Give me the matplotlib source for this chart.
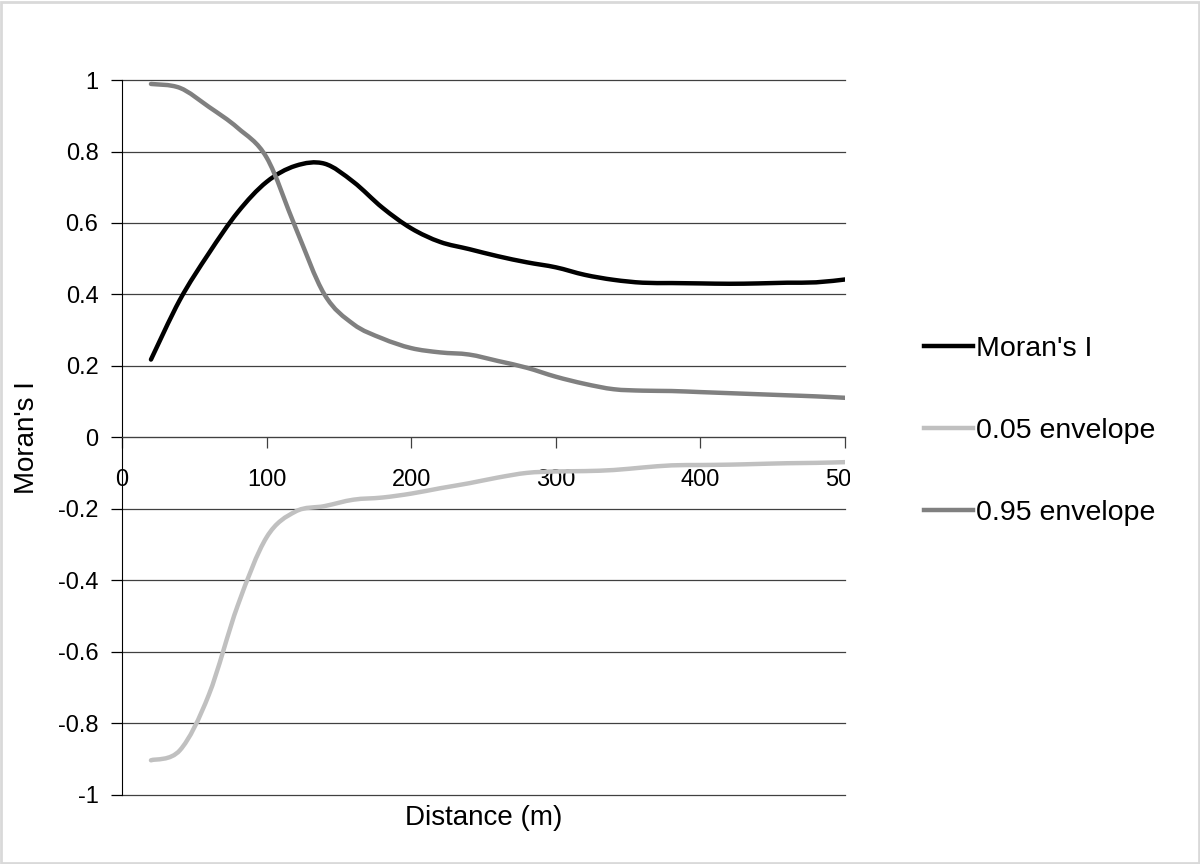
import matplotlib
matplotlib.use("Agg")
import matplotlib.pyplot as plt
import numpy as np
from matplotlib.path import Path
from matplotlib.patches import PathPatch, Rectangle
from matplotlib.lines import Line2D
from matplotlib.transforms import Bbox, TransformedBbox

plt.rcParams['font.family'] = ['Liberation Sans', 'DejaVu Sans']

# distance (m)
distance = [20, 40, 60, 80, 100, 120, 140, 160, 180, 200, 220, 240, 260,
            280, 300, 320, 340, 360, 380, 400, 420, 440, 460, 480, 500]
morans_i = [0.218, 0.385, 0.515, 0.63, 0.715, 0.76, 0.766, 0.715, 0.643, 0.585,
            0.547, 0.527, 0.507, 0.49, 0.476, 0.455, 0.441, 0.433, 0.432, 0.431,
            0.43, 0.431, 0.433, 0.434, 0.442]
env_05 = [-0.903, -0.875, -0.72, -0.47, -0.279, -0.207, -0.192, -0.174, -0.168, -0.157,
          -0.142, -0.128, -0.112, -0.099, -0.095, -0.094, -0.091, -0.084, -0.078, -0.077,
          -0.076, -0.074, -0.072, -0.071, -0.069]
env_95 = [0.989, 0.978, 0.925, 0.866, 0.783, 0.587, 0.40, 0.317, 0.277, 0.25,
          0.238, 0.232, 0.214, 0.195, 0.17, 0.15, 0.135, 0.131, 0.13, 0.127,
          0.124, 0.121, 0.118, 0.115, 0.111]

series = [("Moran's I", morans_i, "#000000"),
          ("0.05 envelope", env_05, "#c0c0c0"),
          ("0.95 envelope", env_95, "#808080")]


def smooth_path(x, y):
    # excel-like smoothed line: bezier segments through every point
    pts = np.column_stack([x, y]).astype(float)
    n = len(pts)
    verts = [pts[0]]
    codes = [Path.MOVETO]
    for i in range(n - 1):
        p0 = pts[max(i - 1, 0)]
        p1 = pts[i]
        p2 = pts[i + 1]
        p3 = pts[min(i + 2, n - 1)]
        verts += [p1 + (p2 - p0) / 6, p2 - (p3 - p1) / 6, p2]
        codes += [Path.CURVE4] * 3
    return Path(verts, codes)


fig = plt.figure(figsize=(12, 8.64), dpi=100)
ax = fig.add_axes([0.1017, 0.0799, 0.6025, 0.8275])

handles = []
for name, vals, col in series:
    ax.add_patch(PathPatch(smooth_path(distance, vals), facecolor='none',
                           edgecolor=col, lw=3.2, capstyle='round', zorder=3))
    handles.append(Line2D([], [], color=col, lw=3.2, label=name))

ax.set_xlim(0, 500)
ax.set_ylim(-1, 1)
ax.set_xticks(range(0, 501, 100))
ax.set_yticks(np.round(np.arange(-1, 1.01, 0.2), 1))
ax.set_yticklabels(['-1', '-0.8', '-0.6', '-0.4', '-0.2', '0',
                    '0.2', '0.4', '0.6', '0.8', '1'])

ax.grid(axis='y', color='#404040', lw=0.9)
ax.set_axisbelow(True)
for gl in ax.get_ygridlines():
    gl.set_clip_on(False)
for s in ['top', 'right']:
    ax.spines[s].set_visible(False)
ax.spines['bottom'].set_position(('data', 0))
ax.spines['bottom'].set_color('#404040')
ax.spines['left'].set_color('#000000')

ax.tick_params(axis='x', direction='out', length=8, width=0.9, pad=15,
               labelsize=17, color='#404040')
ax.tick_params(axis='y', direction='out', length=8, width=0.9, pad=9,
               labelsize=17)
# the last distance label is cut by the plot area edge
clip = TransformedBbox(Bbox([[-0.2, -1], [1.007, 2]]), ax.transAxes)
for lbl in ax.get_xticklabels():
    lbl.set_clip_on(True)
    lbl.set_clip_box(clip)

ax.set_xlabel('Distance (m)', fontsize=20)
ax.xaxis.set_label_coords(0.5, -0.032)
ax.xaxis.label.set_va('center')
ax.set_ylabel("Moran's I", fontsize=20)
ax.yaxis.set_label_coords(-0.131, 0.5)
ax.yaxis.label.set_va('center')

fig.legend(handles=handles, loc='center left', bbox_to_anchor=(0.749, 0.501),
           frameon=False, fontsize=20.5, handlelength=1.7, handletextpad=0.1,
           labelspacing=1.97)

fig.patches.append(Rectangle((0.001, 0.001), 0.998, 0.997, transform=fig.transFigure,
                             fill=False, edgecolor='#d9d9d9', lw=2))

fig.savefig('out.png', dpi=100)
